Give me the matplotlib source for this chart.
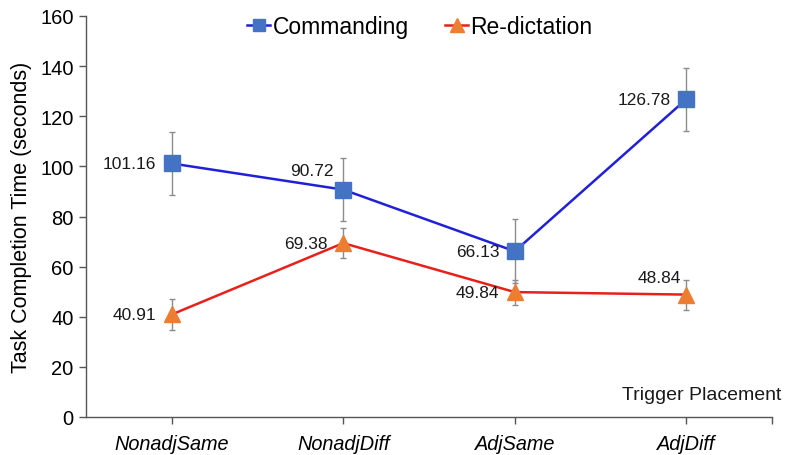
import matplotlib
matplotlib.use("Agg")
import matplotlib.pyplot as plt
from matplotlib.ticker import FixedLocator

plt.rcParams['font.family'] = ['Liberation Sans', 'DejaVu Sans']

categories = ["NonadjSame", "NonadjDiff", "AdjSame", "AdjDiff"]
commanding = [101.16, 90.72, 66.13, 126.78]
commanding_err = [12.5, 12.7, 12.8, 12.6]
redictation = [40.91, 69.38, 49.84, 48.84]
redictation_err = [6.0, 6.0, 5.0, 6.0]
y_ticks = [0, 20, 40, 60, 80, 100, 120, 140, 160]

fig = plt.figure(figsize=(7.85, 4.56), dpi=100)
ax = fig.add_axes([86 / 785, 38 / 456, 686 / 785, 401 / 456])

x = list(range(len(categories)))

ax.errorbar(x, commanding, yerr=commanding_err, fmt='none', ecolor='#8c8c8c',
            elinewidth=1.0, capsize=2, capthick=1.0, zorder=2)
ax.errorbar(x, redictation, yerr=redictation_err, fmt='none', ecolor='#8c8c8c',
            elinewidth=1.0, capsize=2, capthick=1.0, zorder=2)

ax.plot(x, commanding, color='#2020d8', lw=1.8, marker='s', markersize=11,
        markerfacecolor='#4472C4', markeredgecolor='#4472C4', label='Commanding', zorder=3)
ax.plot(x, redictation, color='#e8201c', lw=1.8, marker='^', markersize=12,
        markerfacecolor='#ED7D31', markeredgecolor='#ED7D31', label='Re-dictation', zorder=3)

# value labels (offsets in points)
cmd_offsets = [(-11, 0), (-7, 14), (-11, 0), (-11, 0)]
red_offsets = [(-11, 0), (-11, 0), (-11, 0), (-4, 12)]
for xi, v, (dx, dy) in zip(x, commanding, cmd_offsets):
    ax.annotate(f"{v:.2f}", (xi, v), xytext=(dx, dy), textcoords='offset points',
                ha='right', va='center', fontsize=12.5, color='#1a1a1a', zorder=4)
for xi, v, (dx, dy) in zip(x, redictation, red_offsets):
    ax.annotate(f"{v:.2f}", (xi, v), xytext=(dx, dy), textcoords='offset points',
                ha='right', va='center', fontsize=12.5, color='#1a1a1a', zorder=4)

ax.set_xlim(-0.5, 3.5)
ax.set_ylim(0, 160)
ax.set_yticks(y_ticks)
ax.set_xticks(x)
ax.set_xticklabels(categories, fontstyle='italic', fontsize=14.3)
ax.xaxis.set_minor_locator(FixedLocator([3.5]))
ax.tick_params(axis='x', which='both', direction='out', length=5, width=1, color='#555555', pad=7)
ax.tick_params(axis='y', direction='out', length=5, width=1, color='#555555', labelsize=14.5, pad=4)

for side in ('top', 'right'):
    ax.spines[side].set_visible(False)
for side in ('left', 'bottom'):
    ax.spines[side].set_color('#555555')
    ax.spines[side].set_linewidth(1.0)

ax.set_ylabel("Task Completion Time (seconds)", fontsize=15.5, labelpad=6)
ax.text(1.014, 0.035, "Trigger Placement", transform=ax.transAxes, ha='right', va='bottom',
        fontsize=14, color='#1a1a1a')

ax.legend(loc='upper center', bbox_to_anchor=(0.487, 1.055), ncol=2, frameon=False,
          fontsize=16.5, handlelength=1.0, handletextpad=0.1, columnspacing=1.6,
          markerscale=0.8)

fig.savefig("out.png", dpi=100)
